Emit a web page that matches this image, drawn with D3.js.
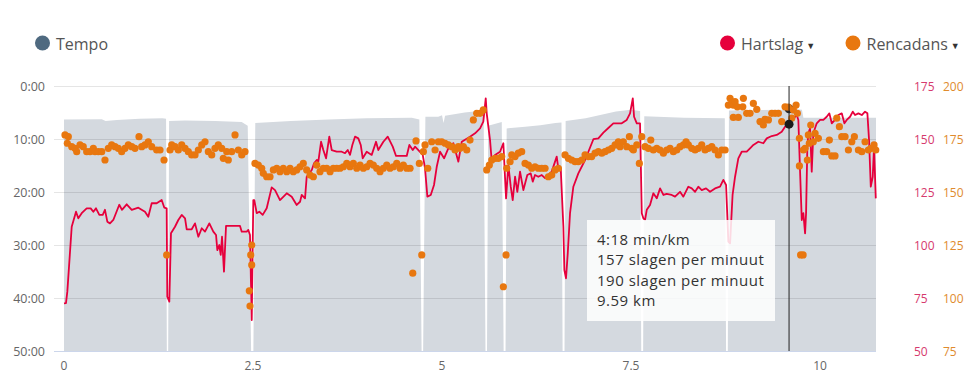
<!DOCTYPE html>
<html><head><meta charset="utf-8">
<script src="https://cdn.jsdelivr.net/npm/d3@7"></script>
<style>body{margin:0;background:#fff;} svg{display:block;font-family:"Open Sans",sans-serif;}</style>
</head><body><svg id="c" width="975" height="383"></svg>
<script>
// ---------- DATA ----------
// distance (km), pace (min/km); 50 = pause
const pace = [[0,6.3],[0.5,6.25],[0.55,6.6],[0.7,6.4],[1.0,6.2],[1.3,6.1],[1.35,6.2],[1.36,50],[1.378,50],[1.39,6.6],[1.6,6.5],[2.0,6.6],[2.35,6.8],[2.43,7.5],[2.475,50],[2.505,50],[2.53,7.0],[3.0,6.6],[3.5,6.3],[4.0,6.1],[4.6,6.0],[4.7,6.3],[4.73,50],[4.75,50],[4.78,5.8],[4.95,5.8],[5.0,5.5],[5.02,7.0],[5.04,5.6],[5.3,5.0],[5.55,4.6],[5.575,50],[5.595,50],[5.61,7.5],[5.79,6.8],[5.815,50],[5.84,50],[5.855,8.0],[6.1,7.7],[6.3,7.4],[6.5,7.0],[6.58,6.9],[6.595,50],[6.62,50],[6.635,6.6],[6.9,6.1],[7.3,4.8],[7.5,4.5],[7.62,4.7],[7.635,50],[7.66,50],[7.675,5.7],[8.2,6.0],[8.74,6.1],[8.757,50],[8.78,50],[8.795,4.6],[9.5,4.5],[9.59,4.3],[9.76,4.5],[9.78,6.0],[10.74,6.0]];

// distance (km), heart rate (bpm)
const heartRate = [[0,72.5],[0.026,72.6],[0.044,78],[0.102,108.6],[0.159,115.7],[0.189,112.6],[0.234,115],[0.300,117.3],[0.353,117.3],[0.388,115.7],[0.423,117.3],[0.467,114.2],[0.512,114.2],[0.542,116.6],[0.573,111],[0.608,110.2],[0.652,111.8],[0.731,119],[0.767,116.6],[0.829,119.2],[0.896,116.6],[0.983,117.6],[1.071,115.7],[1.115,113.3],[1.160,119.7],[1.226,119.7],[1.292,121.2],[1.327,117.6],[1.358,117.3],[1.366,75.6],[1.393,73.3],[1.415,105.5],[1.468,108.6],[1.512,111.8],[1.557,114.2],[1.601,112.6],[1.623,107.4],[1.689,107.4],[1.733,110.2],[1.777,103.9],[1.822,107.9],[1.865,106.3],[1.922,110.2],[1.975,106.3],[2.011,104.7],[2.028,97.6],[2.054,100],[2.073,95.3],[2.090,103.9],[2.116,87.4],[2.143,109],[2.328,109],[2.351,106.3],[2.417,106.3],[2.438,107.1],[2.460,104.7],[2.483,64.6],[2.504,121.2],[2.517,121.2],[2.549,115],[2.583,115.7],[2.628,114.2],[2.681,117.3],[2.747,127.2],[2.791,125.9],[2.857,121.2],[2.946,124.4],[3.012,122.8],[3.078,118.9],[3.122,120.4],[3.144,123.6],[3.188,122],[3.210,132.2],[3.277,135.4],[3.307,138.5],[3.343,140.1],[3.364,139.3],[3.400,148.7],[3.430,144.8],[3.466,140.9],[3.509,151.1],[3.541,144.8],[3.607,144],[3.673,144],[3.717,143.3],[3.753,144.8],[3.783,142.5],[3.814,147.2],[3.849,151.1],[3.893,150.3],[3.925,147.2],[3.951,140.9],[4.004,144],[4.070,142.5],[4.127,148.7],[4.157,144.8],[4.224,148.7],[4.282,151.1],[4.348,146.4],[4.392,142],[4.533,142],[4.568,147.2],[4.613,144.8],[4.643,146.4],[4.687,144.8],[4.745,142.5],[4.775,136.2],[4.806,122.8],[4.851,123.6],[4.894,128.3],[4.930,136.9],[4.974,144],[5.027,140.9],[5.083,145.6],[5.150,148],[5.216,139.3],[5.261,148.7],[5.370,151.1],[5.437,152.7],[5.503,155],[5.546,158.2],[5.578,169.2],[5.591,162.1],[5.635,149.5],[5.658,139.3],[5.701,142.5],[5.767,144],[5.811,148],[5.847,122],[5.877,137.7],[5.909,127.5],[5.935,121.2],[5.966,132.2],[5.996,125.1],[6.032,134.6],[6.076,125.9],[6.128,133],[6.173,133.8],[6.200,129.9],[6.230,133],[6.274,132.2],[6.319,133],[6.363,131.5],[6.406,133],[6.451,134.6],[6.517,141.7],[6.538,136.2],[6.570,136.2],[6.605,108.6],[6.618,88.2],[6.640,84.3],[6.663,96.1],[6.693,115],[6.737,127.5],[6.803,133.8],[6.892,140.1],[7.002,149.9],[7.068,150.3],[7.134,153],[7.200,155.2],[7.266,157.4],[7.377,157.4],[7.443,159],[7.487,162.1],[7.523,169.2],[7.540,160.5],[7.576,157.4],[7.619,157.4],[7.642,115],[7.663,112.6],[7.685,111.8],[7.708,116.6],[7.751,118.9],[7.795,124.4],[7.840,122],[7.884,126.7],[7.928,123.6],[7.972,124.1],[8.038,123.6],[8.082,122.8],[8.148,125.1],[8.192,122.8],[8.258,127.5],[8.303,126.7],[8.347,125.1],[8.390,127.5],[8.435,125.9],[8.492,126.7],[8.545,125.1],[8.611,126.7],[8.677,127.5],[8.721,130.7],[8.757,128.3],[8.787,101.6],[8.810,100.8],[8.843,123.6],[8.876,132.2],[8.919,140.9],[8.964,144],[9.030,144],[9.074,145.6],[9.118,147.2],[9.184,148.7],[9.250,148],[9.295,150.3],[9.361,151.4],[9.427,151.9],[9.493,153.4],[9.537,155.8],[9.590,157],[9.626,159],[9.669,160.5],[9.692,161.3],[9.713,159],[9.735,135.4],[9.758,111.8],[9.779,115],[9.802,105.5],[9.815,115],[9.832,146.4],[9.845,152.7],[9.868,155],[9.890,134.6],[9.911,152.7],[9.956,157.4],[10.000,159],[10.044,159],[10.088,160.5],[10.123,162.1],[10.155,157.4],[10.198,159],[10.242,161.3],[10.287,162.1],[10.322,157.4],[10.353,159],[10.397,160.5],[10.433,162.9],[10.463,161.3],[10.507,162.1],[10.552,161.3],[10.595,162.9],[10.626,162.1],[10.648,149.5],[10.671,127.5],[10.697,132.2],[10.714,146.4],[10.737,122]];

// distance (km), cadence (spm)
const cadence = [[0.013,176.9],[0.057,176.1],[0.044,173],[0.102,171.4],[0.146,170.6],[0.168,169],[0.212,172.2],[0.255,171.4],[0.300,169],[0.344,169],[0.388,170.6],[0.410,169],[0.454,169],[0.499,169],[0.542,165.1],[0.586,170.6],[0.631,172.2],[0.675,171.4],[0.718,170.6],[0.763,169],[0.807,170.6],[0.851,172.2],[0.896,171.4],[0.939,170.6],[0.992,176.1],[1.028,171.4],[1.071,172.2],[1.115,173.7],[1.160,171.4],[1.226,169.8],[1.270,169.8],[1.323,165.1],[1.358,120.3],
[1.402,169.8],[1.425,172.2],[1.468,171.4],[1.512,169.8],[1.557,172.2],[1.601,170.6],[1.644,169],[1.689,167.5],[1.733,167.5],[1.777,169.8],[1.822,172.2],[1.865,173.7],[1.909,169],[1.954,167.5],[1.997,170.6],[2.041,172.2],[2.086,170.6],[2.107,165.9],[2.152,169],[2.173,165.1],[2.218,169],[2.262,176.9],[2.306,169.8],[2.351,167.5],[2.394,169],[2.483,125],[2.470,120.3],[2.483,115.6],[2.451,103.4],[2.460,96.2],
[2.526,163.5],[2.570,162.7],[2.615,161.2],[2.636,158.8],[2.681,157.2],[2.725,157.2],[2.769,160.4],[2.814,161.2],[2.857,159.6],[2.901,161.2],[2.946,159.6],[2.990,161.2],[3.033,159.6],[3.078,160.4],[3.122,161.9],[3.165,163.5],[3.210,160.4],[3.254,158],[3.298,157.2],[3.343,162.7],[3.386,159.6],[3.430,161.2],[3.475,161.2],[3.519,159.6],[3.562,161.2],[3.607,161.2],[3.651,161.2],[3.695,161.9],[3.740,163.5],[3.783,161.9],[3.827,163.5],[3.872,161.2],[3.916,162.7],[3.959,161.2],[4.004,161.9],[4.048,163.5],[4.091,162.7],[4.136,161.2],[4.180,159.6],[4.224,161.2],[4.269,162.7],[4.312,161.2],[4.356,161.9],[4.401,163.5],[4.445,161.2],[4.488,162.7],[4.533,161.2],[4.577,161.2],[4.613,111.7],[4.656,174.1],[4.700,163.5],[4.732,120.3],[4.753,169],
[4.775,172.2],[4.811,161.2],[4.864,173.7],[4.908,169.8],[4.951,173.7],[4.996,173.7],[5.040,173],[5.084,172.2],[5.129,171.4],[5.172,169.8],[5.216,171.4],[5.238,170.6],[5.282,171.4],[5.327,169.8],[5.370,174.5],[5.414,184],[5.459,187.1],[5.503,187.1],[5.546,188.7],
[5.591,160.4],[5.626,162.7],[5.658,165.1],[5.701,165.9],[5.745,165.9],[5.790,166.7],[5.811,105.3],[5.847,120.3],
[5.856,161.2],[5.900,164.3],[5.922,167.5],[5.966,166.7],[6.009,168.3],[6.054,169],[6.098,163.5],[6.142,162.7],[6.187,161.2],[6.230,161.9],[6.274,161.2],[6.319,161.2],[6.363,161.2],[6.406,157.2],[6.451,158],[6.495,160.4],[6.539,161.2],
[6.627,167.5],[6.671,165.9],[6.716,165.1],[6.760,164.3],[6.803,164.3],[6.848,165.1],[6.892,167.5],[6.935,166.7],[6.980,166.7],[7.024,168.3],[7.068,169],[7.113,168.3],[7.156,169],[7.200,169.8],[7.245,170.6],[7.289,172.2],[7.332,173.7],[7.355,171.4],[7.398,173.7],[7.443,171.4],[7.478,176.1],[7.510,170.6],[7.531,169.8],[7.576,172.2],[7.610,163.5],[7.642,176.1],
[7.685,171.4],[7.729,170.6],[7.761,174.5],[7.795,169.8],[7.840,170.6],[7.884,169.8],[7.928,168.3],[7.972,169.8],[8.016,170.6],[8.060,169],[8.105,169.8],[8.148,171.4],[8.192,172.2],[8.228,173.7],[8.258,172.2],[8.303,170.6],[8.347,169.8],[8.390,170.6],[8.435,172.2],[8.479,169.8],[8.523,170.6],[8.568,171.4],[8.611,169.8],[8.655,167.5],[8.700,169.8],[8.744,169.8],
[8.787,191],[8.810,194.2],[8.832,191.8],[8.853,191],[8.876,192.6],[8.906,190.2],[8.853,185.2],[8.919,185.2],[8.986,194.2],[8.978,190.2],[9.030,187.1],[9.074,187.1],[9.118,191.8],[9.163,189],[9.206,183.2],[9.250,181.6],[9.273,184.3],[9.317,184],[9.361,187.1],[9.405,187.1],[9.449,187.1],[9.493,183.2],[9.537,190.2],[9.581,190],[9.626,184.8],[9.647,188.7],[9.683,191],[9.700,187.1],[9.727,175.3],[9.727,162.3],[9.743,120.3],[9.776,120.3],[9.779,169.8],[9.802,170.6],[9.832,165.1],[9.845,176.9],[9.858,173],[9.877,181.6],[9.911,173.7],[9.934,177.7],[9.978,175.3],[10.044,169],[10.088,169],[10.123,174.5],[10.155,167],[10.198,167],[10.221,184.8],[10.256,180.8],[10.287,176.1],[10.331,176.1],[10.375,169.8],[10.420,173.7],[10.454,176.1],[10.507,169.8],[10.552,169],[10.595,173.7],[10.639,169.8],[10.671,170.6],[10.714,172.2],[10.737,169.8]];

const paceTicks = [0,10,20,30,40,50];
const paceTickLabels = ["0:00","10:00","20:00","30:00","40:00","50:00"];
const hrTicks = [175,150,125,100,75,50];
const cadTicks = [200,175,150,125,100,75];
const kmTicks = [0,2.5,5,7.5,10];
const kmTickLabels = ["0","2.5","5","7.5","10"];
const seriesNames = ["Tempo","Hartslag","Rencadans"];
const seriesColors = ["#4f6a80","#e6003c","#e8770f"];

const hover = {km:9.59, pace:"4:18", paceMin:4.3, hr:157, cad:190};

// ---------- CHART ----------
const svg = d3.select("#c");
const P = {left:54, right:876, top:86, bottom:351, x0:64};
const x = d3.scaleLinear().domain([0,10.74]).range([P.x0,P.right]);
const yPace = d3.scaleLinear().domain([0,50]).range([P.top,P.bottom]);
const yHR = d3.scaleLinear().domain([50,175]).range([P.bottom,P.top]);
const yCad = d3.scaleLinear().domain([75,200]).range([P.bottom,P.top]);

// pace area
svg.append("path").datum(pace)
  .attr("d", d3.area().x(d=>x(d[0])).y0(yPace(50)).y1(d=>yPace(d[1])))
  .attr("fill","#d4d9df");

// grid
svg.append("g").selectAll("line").data(paceTicks.slice(0,-1)).join("line")
  .attr("x1",P.left).attr("x2",P.right).attr("y1",d=>yPace(d)).attr("y2",d=>yPace(d))
  .attr("stroke","rgba(0,0,0,0.1)").attr("stroke-width",1).attr("shape-rendering","crispEdges");
svg.append("line").attr("x1",P.left).attr("x2",P.right).attr("y1",yPace(50)).attr("y2",yPace(50))
  .attr("stroke","#ccd6eb").attr("shape-rendering","crispEdges");

// left axis labels
svg.append("g").selectAll("text").data(paceTicks).join("text")
  .attr("x",45).attr("y",d=>yPace(d)+4.5).attr("text-anchor","end")
  .attr("font-size","12.5px").attr("fill","#666").text((d,i)=>paceTickLabels[i]);
// right axes labels
svg.append("g").selectAll("text").data(hrTicks).join("text")
  .attr("x",914).attr("y",d=>yHR(d)+4.5).attr("font-size","12px").attr("fill","#d63a6e").text(d=>d);
svg.append("g").selectAll("text").data(cadTicks).join("text")
  .attr("x",943).attr("y",d=>yCad(d)+4.5).attr("font-size","12px").attr("fill","#e08b2e").text(d=>d);
// x axis labels
svg.append("g").selectAll("text").data(kmTicks).join("text")
  .attr("x",d=>x(d)).attr("y",369.5).attr("text-anchor","middle")
  .attr("font-size","12px").attr("fill","#666").text((d,i)=>kmTickLabels[i]);

// heart rate line
svg.append("path").datum(heartRate)
  .attr("d", d3.line().x(d=>x(d[0])).y(d=>yHR(d[1])))
  .attr("fill","none").attr("stroke",seriesColors[1]).attr("stroke-width",1.8).attr("stroke-linejoin","round");

// pace hover marker (under dots)
svg.append("circle").attr("cx",x(hover.km)).attr("cy",yPace(hover.paceMin)).attr("r",4.5).attr("fill","#2b2b2b");

// cadence dots
svg.append("g").selectAll("circle").data(cadence).join("circle")
  .attr("cx",d=>x(d[0])).attr("cy",d=>yCad(d[1])).attr("r",3.6).attr("fill",seriesColors[2]);

// cursor
svg.append("line").attr("x1",x(hover.km)).attr("x2",x(hover.km)).attr("y1",P.top).attr("y2",P.bottom)
  .attr("stroke","#222").attr("stroke-width",1);
svg.append("circle").attr("cx",x(hover.km)).attr("cy",yHR(hover.hr)).attr("r",4.5).attr("fill","#1a1a1a");

// tooltip
const tt = svg.append("g").attr("transform","translate(587,220)");
tt.append("rect").attr("width",188).attr("height",101).attr("fill","#fff").attr("opacity",0.85);
const ttLines = [hover.pace+" min/km", hover.hr+" slagen per minuut", hover.cad+" slagen per minuut", hover.km.toFixed(2)+" km"];
tt.selectAll("text").data(ttLines).join("text")
  .attr("x",10).attr("y",(d,i)=>24.5+i*20.6).attr("font-size","15px").attr("letter-spacing","0.5px")
  .attr("fill","#333").text(d=>d);

// legend
const leg = [{x:42.5,name:seriesNames[0],c:seriesColors[0],arrow:false},
             {x:727.5,name:seriesNames[1],c:seriesColors[1],arrow:true},
             {x:853,name:seriesNames[2],c:seriesColors[2],arrow:true}];
leg.forEach(l=>{
  const g = svg.append("g");
  g.append("circle").attr("cx",l.x).attr("cy",43).attr("r",7.5).attr("fill",l.c);
  const t = g.append("text").attr("x",l.x+13.5).attr("y",50).attr("font-size","16px").attr("fill","#555").text(l.name);
  if(l.arrow){
    const w = t.node().getComputedTextLength();
    g.append("text").attr("x",l.x+13.5+w+3).attr("y",48.5).attr("font-size","9px").attr("fill","#333").text("▼");
  }
});
</script></body></html>
